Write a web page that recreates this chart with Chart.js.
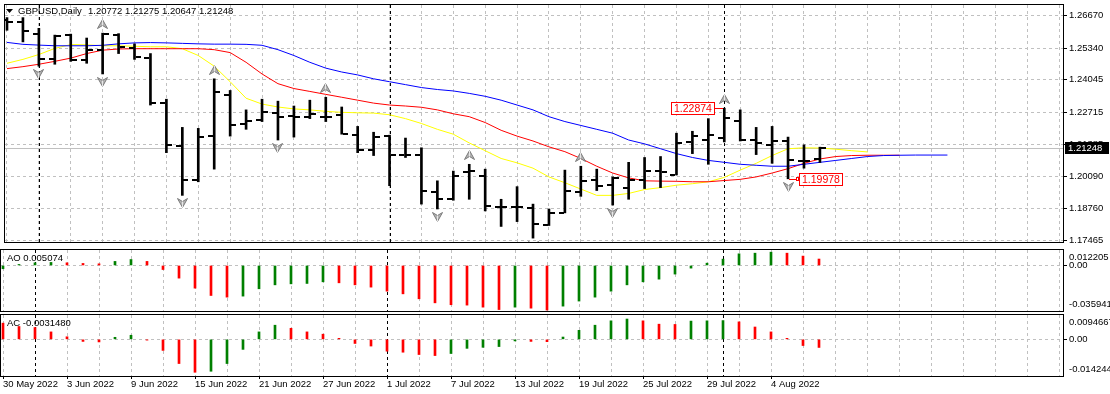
<!DOCTYPE html>
<html>
<head>
<meta charset="utf-8">
<script src="https://cdn.jsdelivr.net/npm/chart.js@4.4.1/dist/chart.umd.min.js"></script>
<style>
body{margin:0;background:#fff;width:1110px;height:394px;overflow:hidden;position:relative}
canvas{position:absolute;left:0}
</style>
</head>
<body>
<canvas id="main" width="1110" height="247" style="top:0px"></canvas>
<canvas id="ao" width="1110" height="63" style="top:249px"></canvas>
<canvas id="ac" width="1110" height="80" style="top:314px"></canvas>
<script>
// GBPUSD daily bars, 30 May - 9 Aug 2022
const dates = ['30 May 2022','31 May 2022','1 Jun 2022','2 Jun 2022','3 Jun 2022','6 Jun 2022','7 Jun 2022','8 Jun 2022','9 Jun 2022','10 Jun 2022',
  '13 Jun 2022','14 Jun 2022','15 Jun 2022','16 Jun 2022','17 Jun 2022','20 Jun 2022','21 Jun 2022','22 Jun 2022','23 Jun 2022','24 Jun 2022',
  '27 Jun 2022','28 Jun 2022','29 Jun 2022','30 Jun 2022','1 Jul 2022','4 Jul 2022','5 Jul 2022','6 Jul 2022','7 Jul 2022','8 Jul 2022',
  '11 Jul 2022','12 Jul 2022','13 Jul 2022','14 Jul 2022','15 Jul 2022','18 Jul 2022','19 Jul 2022','20 Jul 2022','21 Jul 2022','22 Jul 2022',
  '25 Jul 2022','26 Jul 2022','27 Jul 2022','28 Jul 2022','29 Jul 2022','1 Aug 2022','2 Aug 2022','3 Aug 2022','4 Aug 2022','5 Aug 2022',
  '8 Aug 2022','9 Aug 2022'];

const opens = [1.26511,1.26431,1.25913,1.24877,1.25873,1.24837,1.25275,1.25873,1.25355,1.24917,
  1.23083,1.21330,1.19935,1.21729,1.23402,1.22207,1.22406,1.22685,1.22565,1.22526,
  1.22526,1.22605,1.21768,1.21171,1.21729,1.20971,1.20971,1.19417,1.19138,1.20254,
  1.20095,1.18820,1.18820,1.18780,1.18102,1.18580,1.19417,1.19935,1.19736,1.19616,
  1.19935,1.20294,1.20135,1.21489,1.21569,1.21649,1.22366,1.21569,1.21370,1.21529,
  1.20692,1.20772];
const highs = [1.26590,1.26590,1.26152,1.25873,1.25913,1.25753,1.25953,1.25933,1.25514,1.25116,
  1.23243,1.22087,1.22047,1.24080,1.23602,1.22805,1.23243,1.23163,1.22964,1.23203,
  1.23323,1.22924,1.22127,1.21888,1.21768,1.21649,1.21250,1.19895,1.20294,1.20573,
  1.20374,1.19138,1.19656,1.18939,1.18740,1.20334,1.20493,1.20374,1.20055,1.20653,
  1.20852,1.20892,1.21848,1.21928,1.22446,1.22874,1.22805,1.22087,1.22127,1.21689,
  1.21370,1.21275];
const lows = [1.26072,1.25594,1.24598,1.24677,1.24797,1.24717,1.24279,1.25116,1.24877,1.23004,
  1.21051,1.19298,1.19856,1.20374,1.21729,1.22008,1.22326,1.21569,1.21689,1.22446,
  1.22326,1.21808,1.21051,1.20932,1.19696,1.20852,1.18939,1.18740,1.19098,1.19138,
  1.18660,1.18023,1.18222,1.17544,1.18062,1.18580,1.19258,1.19497,1.18899,1.19138,
  1.19577,1.19616,1.20135,1.21011,1.20573,1.21489,1.21529,1.20971,1.20613,1.19978,
  1.20414,1.20647];
const closes = [1.26431,1.26032,1.24877,1.25833,1.24837,1.25275,1.25913,1.25395,1.24956,1.23083,
  1.21370,1.19935,1.21689,1.23522,1.22167,1.22366,1.22725,1.22526,1.22526,1.22645,
  1.22526,1.21808,1.21171,1.21689,1.20971,1.20971,1.19497,1.19138,1.20095,1.20294,
  1.18859,1.18820,1.18820,1.18142,1.18580,1.19457,1.19895,1.19696,1.20015,1.19935,
  1.20294,1.20254,1.21450,1.21729,1.21768,1.22486,1.21569,1.21450,1.21529,1.20732,
  1.20692,1.21248];

// Alligator lines (already shifted forward, so longer than the bars)
const jaw = [1.25574,1.25494,1.25463,1.25435,1.25435,1.25435,1.25455,1.25514,1.25554,1.25566,
  1.25554,1.25534,1.25514,1.25502,1.25502,1.25494,1.25455,1.25275,1.25036,1.24757,
  1.24518,1.24359,1.24239,1.24080,1.23960,1.23841,1.23721,1.23641,1.23582,1.23482,
  1.23362,1.23203,1.23004,1.22805,1.22526,1.22326,1.22167,1.22008,1.21848,1.21569,
  1.21410,1.21211,1.21011,1.20852,1.20732,1.20653,1.20573,1.20533,1.20493,1.20493,
  1.20573,1.20653,1.20732,1.20812,1.20892,1.20932,1.20944,1.20952,1.20952,1.20952];
const teeth = [1.24498,1.24578,1.24677,1.24797,1.24929,1.25116,1.25255,1.25303,1.25315,1.25315,
  1.25315,1.25315,1.25315,1.25275,1.25156,1.24757,1.24279,1.23880,1.23681,1.23562,
  1.23442,1.23323,1.23203,1.23083,1.23004,1.22964,1.22912,1.22805,1.22645,1.22526,
  1.22286,1.21968,1.21729,1.21529,1.21290,1.21091,1.20812,1.20493,1.20214,1.20015,
  1.19895,1.19883,1.19875,1.19856,1.19856,1.19907,1.19955,1.20055,1.20214,1.20394,
  1.20613,1.20792,1.20892,1.20932,1.20944,1.20944,1.20944];
const lips = [1.24717,1.24877,1.25076,1.25327,1.25486,1.25474,1.25435,1.25435,1.25415,1.25395,
  1.25395,1.25315,1.25036,1.24598,1.23960,1.23283,1.23044,1.22924,1.22844,1.22805,
  1.22745,1.22705,1.22685,1.22673,1.22605,1.22446,1.22247,1.22008,1.21808,1.21450,
  1.21131,1.20812,1.20633,1.20414,1.20055,1.19816,1.19557,1.19298,1.19298,1.19377,
  1.19537,1.19616,1.19716,1.19776,1.19856,1.20035,1.20334,1.20613,1.20932,1.21211,
  1.21250,1.21238,1.21191,1.21131,1.21079];

const fractalUp = [6, 13, 20, 29, 36, 45];
const fractalDown = [2, 6, 11, 17, 27, 33, 38, 49];
const hiTag = 45, loTag = 49;

const ao = [-0.0026,0.0008,0.0021,0.0024,0.0021,0.0016,0.0013,0.0032,0.0047,0.0032,
  -0.0032,-0.0100,-0.0179,-0.0237,-0.0250,-0.0242,-0.0184,-0.0153,-0.0145,-0.0142,
  -0.0129,-0.0137,-0.0153,-0.0171,-0.0203,-0.0224,-0.0263,-0.0295,-0.0310,-0.0313,
  -0.0329,-0.0348,-0.0329,-0.0337,-0.0352,-0.0321,-0.0281,-0.0250,-0.0203,-0.0153,
  -0.0129,-0.0108,-0.0068,-0.0021,0.0018,0.0050,0.0092,0.0097,0.0105,0.0097,
  0.0074,0.005074];
const ac = [0.0063,0.0050,0.0046,0.0029,0.0010,-0.0008,-0.0010,0.0008,0.0016,-0.0003,
  -0.0043,-0.0094,-0.0128,-0.0124,-0.0094,-0.0039,0.0029,0.0055,0.0043,0.0029,
  0.0020,0.0004,-0.0016,-0.0026,-0.0046,-0.0050,-0.0059,-0.0063,-0.0055,-0.0035,
  -0.0031,-0.0028,-0.0006,-0.0008,-0.0009,0.0009,0.0035,0.0055,0.0072,0.0079,
  0.0072,0.0059,0.0058,0.0071,0.0072,0.0073,0.0068,0.0048,0.0029,0.0004,
  -0.0024,-0.0031480];

const priceTicks = [1.26670, 1.25340, 1.24045, 1.22715, 1.21385, 1.20090, 1.18760, 1.17465];
const aoRange = [0.012205, -0.035941];
const acRange = [0.0094667, -0.014244];

const FONT = '"Liberation Sans", Arial, sans-serif';
Chart.defaults.font.family = FONT;
Chart.defaults.font.size = 9.5;
Chart.defaults.color = '#000';
Chart.defaults.animation = false;

const GRID = '#c0c0c0';
const last = dates.length - 1;
const gridIdx = [];
for (let i = 0; i <= 66; i += 2) gridIdx.push(i);
const monthStarts = dates.map((d, i) => d.startsWith('1 ') ? i : -1).filter(i => i >= 0);
const isLabel = v => v % 4 === 0 && v < dates.length;

// small images used as point styles
function tickImg(left) {
  const c = document.createElement('canvas');
  c.width = 14; c.height = 2;
  const g = c.getContext('2d');
  g.fillStyle = '#000';
  g.fillRect(left ? 1 : 8, 0, 5, 2);
  return c;
}
function arrowImg(up) {
  const c = document.createElement('canvas');
  c.width = 11; c.height = up ? 28 : 26;
  const g = c.getContext('2d');
  const tip = up ? 0.5 : 25.5, base = up ? 9.5 : 16.5, notch = up ? 6.5 : 19.5;
  g.beginPath();
  g.moveTo(5.5, tip); g.lineTo(10.5, base); g.lineTo(5.5, notch); g.lineTo(0.5, base); g.closePath();
  g.fillStyle = '#b4b4b4'; g.fill();
  g.strokeStyle = '#7a7a7a'; g.lineWidth = 1; g.stroke();
  g.beginPath(); g.moveTo(5.5, tip); g.lineTo(5.5, notch);
  g.strokeStyle = '#e8e8e8'; g.stroke();
  return c;
}

function xAxis(showLabels) {
  return {
    type: 'linear', min: -0.125, max: 66.25, offset: false, bounds: 'data',
    grid: { color: GRID, offset: false, drawTicks: showLabels, tickLength: 3, tickBorderDash: [],
      tickColor: c => (c.tick && isLabel(c.tick.value)) ? '#000' : 'rgba(0,0,0,0)' },
    border: { display: false, dash: [3, 3] },
    afterBuildTicks: s => { s.ticks = gridIdx.map(v => ({ value: v })); },
    afterFit: s => { s.height = showLabels ? 18 : 0; s.paddingLeft = 0; s.paddingRight = 0; },
    ticks: { display: showLabels, autoSkip: false, maxRotation: 0, minRotation: 0, align: 'start', padding: 0,
      callback: v => isLabel(v) ? dates[v] : '' }
  };
}

function subAxis(range) {
  return {
    position: 'right', min: range[1], max: range[0], bounds: 'data',
    grid: { tickLength: 4, tickBorderDash: [],
      color: c => (c.tick && c.tick.value === 0) ? GRID : 'rgba(0,0,0,0)',
      tickColor: c => (c.tick && c.tick.value === 0) ? '#000' : 'rgba(0,0,0,0)' },
    border: { display: false, dash: [3, 3] },
    afterBuildTicks: s => { s.ticks = [range[0], 0, range[1]].map(v => ({ value: v })); },
    afterFit: s => { s.width = 47; s.paddingTop = 0; s.paddingBottom = 0; },
    ticks: { autoSkip: false, padding: 2, font: { size: 9.5, lineHeight: 1.45 },
      callback: v => v === 0 ? '0.00' : (v === range[0] ? ['', String(v)] : [String(v), '']) }
  };
}

const panel = {
  id: 'panel',
  beforeDraw(chart) { chart.ctx.imageSmoothingEnabled = false; },
  beforeDatasetsDraw(chart, args, o) {
    const { ctx, chartArea: a, scales: { x, y } } = chart;
    ctx.save();
    ctx.lineWidth = 1;
    ctx.strokeStyle = '#000';
    ctx.setLineDash([3, 3]);
    monthStarts.forEach(i => {
      const px = Math.round(x.getPixelForValue(i)) + 0.5;
      ctx.beginPath(); ctx.moveTo(px, a.top); ctx.lineTo(px, a.bottom); ctx.stroke();
    });
    ctx.setLineDash([]);
    if (o.bid) {
      const py = Math.round(y.getPixelForValue(closes[last])) + 0.5;
      ctx.strokeStyle = GRID;
      ctx.beginPath(); ctx.moveTo(a.left, py); ctx.lineTo(a.right, py); ctx.stroke();
    }
    ctx.restore();
  },
  afterDraw(chart, args, o) {
    const { ctx, chartArea: a, scales: { x, y } } = chart;
    ctx.save();
    ctx.strokeStyle = '#000'; ctx.lineWidth = 1;
    ctx.strokeRect(a.left - 0.5, a.top - 0.5, a.right - a.left + 1, a.bottom - a.top + 1);
    ctx.font = '9.5px ' + FONT;
    ctx.textBaseline = 'middle'; ctx.textAlign = 'left'; ctx.fillStyle = '#000';
    if (o.title) {
      ctx.beginPath(); ctx.moveTo(6, 9); ctx.lineTo(13, 9); ctx.lineTo(9.5, 13); ctx.closePath(); ctx.fill();
      ctx.fillText('GBPUSD,Daily', 18, 11);
      ctx.fillText([opens[last], highs[last], lows[last], closes[last]].map(v => v.toFixed(5)).join(' '), 88, 11);
    }
    if (o.text) ctx.fillText(o.text, 7, o.textY);
    if (o.bid) {
      const py = Math.round(y.getPixelForValue(closes[last]));
      ctx.fillStyle = '#000'; ctx.fillRect(a.right + 2, py - 6, 44, 12);
      ctx.fillStyle = '#fff'; ctx.fillText(closes[last].toFixed(5), a.right + 5, py + 0.5);
    }
    if (o.tags) {
      const tag = (i, v, left) => {
        const px = Math.round(x.getPixelForValue(i)), py = Math.round(y.getPixelForValue(v));
        const text = v.toFixed(5);
        ctx.font = '10.5px ' + FONT;
        const w = Math.round(ctx.measureText(text).width) + 6, h = 13;
        const bx = left ? px - 9 - w : px + 11, by = py - 6;
        ctx.fillStyle = '#fff'; ctx.fillRect(bx, by, w, h);
        ctx.strokeStyle = '#f00';
        ctx.strokeRect(bx + 0.5, by + 0.5, w - 1, h - 1);
        ctx.beginPath();
        if (left) { ctx.moveTo(bx + w, py + 0.5); ctx.lineTo(px - 1, py + 0.5); }
        else { ctx.moveTo(px + 1, py + 0.5); ctx.lineTo(px + 8, py + 0.5); ctx.strokeRect(px + 8.5, py - 1.5, 2, 3); }
        ctx.stroke();
        ctx.fillStyle = '#f00';
        ctx.fillText(text, bx + 3, by + h / 2 + 0.5);
      };
      tag(hiTag, highs[hiTag], true);
      tag(loTag, lows[loTag], false);
    }
    ctx.restore();
  }
};

const pts = arr => arr.map((v, i) => ({ x: i, y: v }));
const common = { responsive: false, devicePixelRatio: 1, events: [], plugins: { legend: { display: false }, tooltip: { enabled: false } } };
const line = (data, color) => ({ type: 'line', data: pts(data), borderColor: color, borderWidth: 1, pointRadius: 0, fill: false, tension: 0, order: 3 });
const marks = (data, img) => ({ type: 'scatter', data, pointStyle: img, pointRadius: 3, order: 0, clip: 0 });

new Chart(document.getElementById('main'), {
  type: 'bar',
  data: { datasets: [
    line(jaw, '#0000ff'), line(teeth, '#ff0000'), line(lips, '#ffff00'),
    { type: 'bar', data: dates.map((d, i) => ({ x: i, y: [lows[i], highs[i]] })), backgroundColor: '#000', barThickness: 2, borderWidth: 0, order: 1 },
    marks(pts(opens), tickImg(true)),
    marks(pts(closes), tickImg(false)),
    marks(fractalUp.map(i => ({ x: i, y: highs[i] })), arrowImg(true)),
    marks(fractalDown.map(i => ({ x: i, y: lows[i] })), arrowImg(false))
  ] },
  options: { ...common,
    layout: { padding: { left: 1, top: 2, right: 0, bottom: 1 } },
    plugins: { ...common.plugins, panel: { title: true, bid: true, tags: true } },
    scales: {
      x: xAxis(false),
      y: {
        position: 'right', min: 1.17385, max: 1.27108, bounds: 'data',
        grid: { color: GRID, tickLength: 4, tickColor: '#000', tickBorderDash: [] },
        border: { display: false, dash: [3, 3] },
        afterBuildTicks: s => { s.ticks = priceTicks.map(v => ({ value: v })); },
        afterFit: s => { s.width = 47; s.paddingTop = 0; s.paddingBottom = 0; },
        ticks: { autoSkip: false, padding: 2, callback: v => v.toFixed(5) }
      }
    }
  },
  plugins: [panel]
});

function oscillator(id, values, range, firstUp, text, textY, showDates) {
  const colors = values.map((v, i) => (i === 0 ? firstUp : v > values[i - 1]) ? '#008000' : '#ff0000');
  new Chart(document.getElementById(id), {
    type: 'bar',
    data: { datasets: [{ data: pts(values), backgroundColor: colors, barThickness: 2, borderWidth: 0 }] },
    options: { ...common,
      layout: { padding: { left: 1, top: 1, right: 0, bottom: showDates ? 0 : 1 } },
      plugins: { ...common.plugins, panel: { text, textY } },
      scales: { x: xAxis(showDates), y: subAxis(range) }
    },
    plugins: [panel]
  });
}

oscillator('ao', ao, aoRange, true, 'AO ' + ao[last].toFixed(6), 9.5, false);
oscillator('ac', ac, acRange, false, 'AC ' + ac[last].toFixed(7), 9, true);
</script>
</body>
</html>
